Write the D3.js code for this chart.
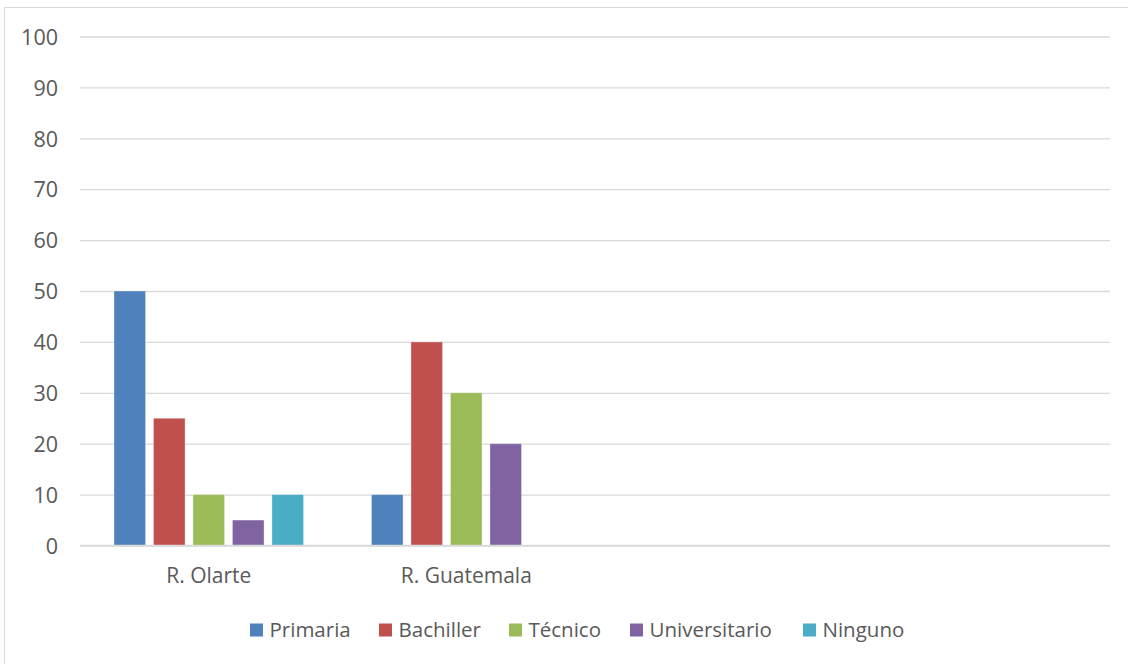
<!DOCTYPE html>
<html><head><meta charset="utf-8">
<script src="https://cdn.jsdelivr.net/npm/d3@7"></script>
<style>body{margin:0;background:#fff;} svg{display:block;} text{font-family:"Open Sans",sans-serif;fill:#595959;}</style>
</head><body>
<svg id="c" width="1128" height="664"></svg>
<script>
const categories = ["R. Olarte", "R. Guatemala", "", " "];
const seriesNames = ["Primaria", "Bachiller", "Técnico", "Universitario", "Ninguno"];
const colors = ["#4F81BD", "#C0504D", "#9BBB59", "#8064A2", "#4BACC6"];
const primaria = [50, 10, null, null];
const bachiller = [25, 40, null, null];
const tecnico = [10, 30, null, null];
const universitario = [5, 20, null, null];
const ninguno = [10, 0, null, null];
const yTicks = [0, 10, 20, 30, 40, 50, 60, 70, 80, 90, 100];

const seriesValues = [primaria, bachiller, tecnico, universitario, ninguno];
const svg = d3.select("#c");

svg.append("rect").attr("x", 4.5).attr("y", 7.5).attr("width", 1200).attr("height", 700)
  .attr("fill", "#fff").attr("stroke", "#d9d9d9").attr("stroke-width", 1);

const x0 = d3.scaleBand().domain(categories).range([80, 1110]).paddingInner(0).paddingOuter(0);
const x1 = d3.scaleBand().domain(seriesNames).range([0, x0.bandwidth()]).paddingInner(0.2).paddingOuter(0.86);
const y = d3.scaleLinear().domain([0, 100]).range([545.5, 36.5]);

const yAxis = d3.axisLeft(y).tickValues(yTicks).tickSize(-(1110 - 80)).tickPadding(22);
const gy = svg.append("g").attr("transform", "translate(80,0)").call(yAxis);
gy.select(".domain").remove();
gy.selectAll("line").attr("stroke", "#d9d9d9").attr("stroke-width", 1.3);
gy.selectAll("text").attr("font-size", 21.5).attr("fill", "#595959").attr("font-family", "Open Sans").attr("dy", "0.36em");

const groups = svg.append("g").selectAll("g").data(categories).join("g")
  .attr("transform", d => `translate(${x0(d)},0)`);
groups.each(function(cat, ci) {
  const g = d3.select(this);
  seriesNames.forEach((s, si) => {
    const v = seriesValues[si][ci];
    if (v == null || v === 0) return;
    g.append("rect")
      .attr("x", x1(s)).attr("width", x1.bandwidth())
      .attr("y", y(v)).attr("height", y(0) - y(v))
      .attr("fill", colors[si]).attr("stroke", "#fff").attr("stroke-opacity", 0.35).attr("stroke-width", 1);
  });
});

svg.append("line").attr("x1", 80).attr("x2", 1110).attr("y1", y(0)).attr("y2", y(0))
  .attr("stroke", "#d9d9d9").attr("stroke-width", 1.3);

const xAxis = d3.axisBottom(x0).tickSize(0).tickPadding(23);
const gx = svg.append("g").attr("transform", `translate(0,${y(0)})`).call(xAxis);
gx.select(".domain").remove();
gx.selectAll("text").attr("font-size", 21).attr("fill", "#595959").attr("font-family", "Open Sans");

const legendX = [250, 379, 509, 630, 803];
const lg = svg.append("g");
seriesNames.forEach((s, i) => {
  lg.append("rect").attr("x", legendX[i]).attr("y", 623.5).attr("width", 13).attr("height", 13).attr("fill", colors[i]);
  lg.append("text").attr("x", legendX[i] + 19.5).attr("y", 637).attr("font-size", 20.5).text(s);
});
</script>
</body></html>
